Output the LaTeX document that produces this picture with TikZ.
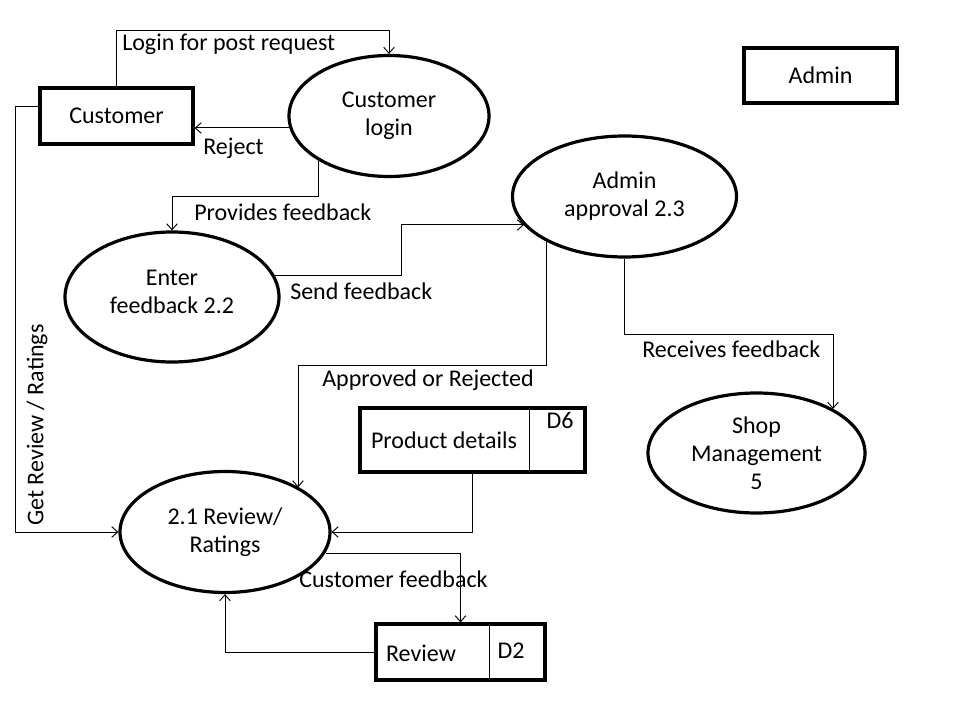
\documentclass[tikz,border=0pt]{standalone}
\usepackage{fontspec}
\setmainfont{Carlito}
\usetikzlibrary{shapes.geometric,arrows.meta}
\tikzset{
  proc/.style={ellipse,draw,line width=2.4pt,inner sep=0pt,align=center},
  ent/.style={rectangle,draw,line width=2.4pt,inner sep=0pt,align=center},
  store/.style={rectangle,draw,line width=2.4pt,inner sep=0pt},
  flow/.style={draw,line width=0.75pt,-{Straight Barb[length=4.5pt,width=8pt,line width=0.7pt]}},
  lbl/.style={inner sep=0pt,anchor=west},
  divider/.style={line width=0.75pt},
}
\begin{document}
\begin{tikzpicture}[x=0.75pt,y=-0.75pt,every node/.style={font=\fontsize{18}{21}\selectfont}]
\useasboundingbox (0,0) rectangle (960,720);
% entities
\node[ent,minimum width=114.75pt,minimum height=42pt] (cust) at (116.5,116) {Customer};
\node[ent,minimum width=114.75pt,minimum height=41.25pt] (admin) at (820.5,75.5) {Admin};
% processes
\node[proc,minimum width=150pt,minimum height=90.75pt] (login) at (389,116) {Customer\\login};
\node[proc,minimum width=168pt,minimum height=90.75pt] (appr) at (624.5,196.5) {Admin\\approval 2.3};
\node[proc,minimum width=160.5pt,minimum height=97.5pt] (enter) at (172,297) {};
\node[align=center] at (172,291.5) (entertxt) {Enter\\feedback 2.2};
\node[proc,minimum width=157.5pt,minimum height=90.75pt] (rev) at (225,532) {2.1 Review/\\Ratings};
\node[proc,minimum width=162.75pt,minimum height=90pt] (shop) at (756.5,453) {Shop\\Management\\5};
% stores
\node[store,minimum width=168.75pt,minimum height=48pt] (prod) at (472.5,440) {};
\draw[divider] ([shift={(-57,0)}]prod.north east) -- ([shift={(-57,0)}]prod.south east);
\node (prodtxt) at (444,440) {Product details};
\node (d6) at (560,420) {D6};
\node[store,minimum width=126.75pt,minimum height=42pt] (rbox) at (460.5,652) {};
\draw[divider] ([shift={(-57,0)}]rbox.north east) -- ([shift={(-57,0)}]rbox.south east);
\node (rboxtxt) at (421,653) {Review};
\node (d2) at (511,651) {D2};
% flows
\draw[flow] (cust.north) -- ++(0,-56) -| (login.north);
\node[lbl] (l1) at (122,44) {Login for post request};
\draw[flow] ([shift={(4,12)}]login.west) coordinate (r0) -- (r0 -| cust.east);
\node[lbl] (l2) at (203,148) {Reject};
\draw[flow] ([shift={(-71,-17)}]login.south) -- ++(0,35) -| (enter.north);
\node[lbl] (l3) at (194,212) {Provides feedback};
\draw[flow] ([shift={(-6,-21)}]enter.east) -| ++(127,-51) -- ([shift={(13,28.5)}]appr.west);
\node[lbl] (l4) at (290,291) {Send feedback};
\draw[flow] ([shift={(-78.5,-17)}]appr.south) -- ++(0,124) -| ([shift={(73,17.5)}]rev.north);
\node[lbl] (l5) at (322,380) {Approved or Rejected};
\draw[flow] (appr.south) -- ++(0,76) -| ([shift={(76.5,17.5)}]shop.north);
\node[lbl] (l6) at (642,349) {Receives feedback};
\draw[flow] (prod.south) |- (rev.east);
\draw[flow] ([shift={(-6,21)}]rev.east) -| (rbox.north);
\node[lbl] (l7) at (299,579) {Customer feedback};
\draw[flow] (rbox.west) -| (rev.south);
\draw[flow] ([shift={(0,-9)}]cust.west) -- ++(-23,0) |- (rev.west);
\node[rotate=90,inner sep=0pt] (l8) at (37,425) {Get Review / Ratings};
\end{tikzpicture}
\end{document}
